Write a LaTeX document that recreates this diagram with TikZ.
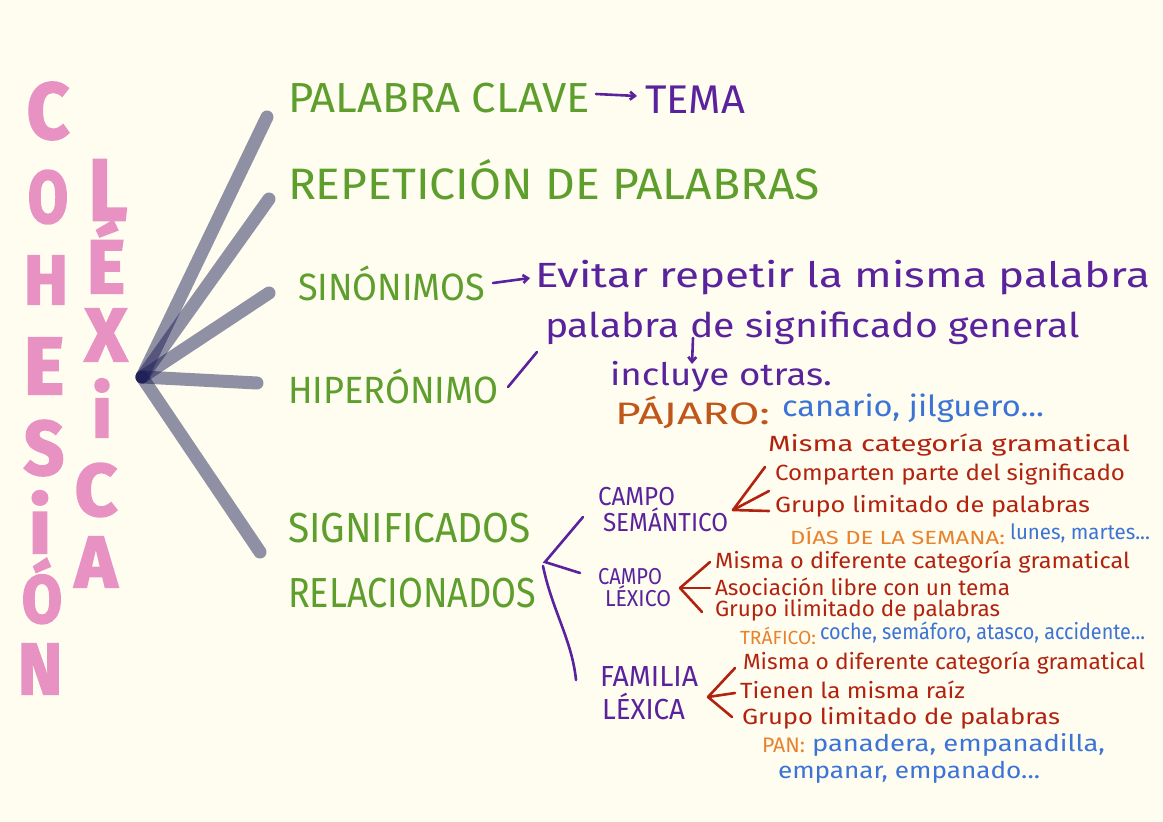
\documentclass[tikz,border=0pt]{standalone}
\usepackage{fontspec}
\usepackage{graphicx}
\setmainfont{Fira Sans}
\newfontfamily\fatfont[UprightFont={* Bold},FakeBold=3]{Fira Sans}
\usetikzlibrary{arrows.meta}
\definecolor{bgc}{HTML}{FEFDF0}
\definecolor{grn}{HTML}{5E9E2C}
\definecolor{prp}{HTML}{5A229C}
\definecolor{rd}{HTML}{B3220F}
\definecolor{brn}{HTML}{C0561A}
\definecolor{org}{HTML}{E8822E}
\definecolor{blu}{HTML}{3B73D6}
\definecolor{pnk}{HTML}{E792C2}
\definecolor{hubc}{HTML}{1A1A55}
% stretch text horizontally to a given width, keep natural height
\newcommand\fitw[2]{\resizebox{#1pt}{\height}{#2}}
\newcommand\fs[1]{\fontsize{#1}{#1}\selectfont}
\newcommand\bigletter[3]{\resizebox{#1pt}{#2pt}{\fatfont #3}}
\tikzset{
  txt/.style={anchor=west,inner sep=0pt,outer sep=0pt},
  g/.style={txt,text=grn},
  p/.style={txt,text=prp},
  r/.style={txt,text=rd,font=\fs{22}},
  o/.style={txt,text=org},
  b/.style={txt,text=blu},
  bigl/.style={text=pnk,inner sep=0pt},
  fan/.style={draw=hubc,draw opacity=0.48,line width=13pt,line cap=round},
  pline/.style={draw=prp,line width=2.6pt,line cap=round},
  rline/.style={draw=rd,line width=2.6pt,line cap=round},
  parrow/.style={pline,-{Straight Barb[length=5pt,width=8pt]}},
}
\begin{document}
\begin{tikzpicture}[x=1pt,y=-1pt]
\fill[bgc] (0,0) rectangle (1163,822);
\useasboundingbox (0,0) rectangle (1163,822);
% COHESION
\node[bigl] (c1) at (48,111) {\bigletter{42}{56}{C}};
\node[bigl] (c2) at (48,197) {\bigletter{40}{52}{O}};
\node[bigl] (c3) at (46,280) {\bigletter{44}{48}{H}};
\node[bigl] (c4) at (44,366) {\bigletter{40}{56}{E}};
\node[bigl] (c5) at (44,448) {\bigletter{40}{54}{S}};
\node[bigl] (c6) at (40,522) {\bigletter{22}{62}{i}};
\node[bigl] (c7) at (42,591) {\bigletter{40}{64}{Ó}};
\node[bigl] (c8) at (40,669) {\bigletter{44}{50}{N}};
% LEXICA
\node[bigl] (l1) at (108,190) {\bigletter{38}{60}{L}};
\node[bigl] (l2) at (106,257) {\bigletter{38}{72}{É}};
\node[bigl] (l3) at (106,335) {\bigletter{42}{52}{X}};
\node[bigl] (l4) at (102,408) {\bigletter{20}{58}{i}};
\node[bigl] (l5) at (96,490) {\bigletter{42}{52}{C}};
\node[bigl] (l6) at (96,562) {\bigletter{42}{50}{A}};
% fan
\coordinate (hub) at (142,377);
\coordinate (f1) at (267,117);
\coordinate (f2) at (269,199);
\coordinate (f3) at (269,293);
\coordinate (f4) at (257,383);
\coordinate (f5) at (260,552);
\foreach \e in {f1,f2,f3,f4,f5} \draw[fan] (hub) -- (\e);
% branch 1
\node[g,font=\fs{42}] (pc) at (288,98) {\fitw{302}{PALABRA CLAVE}};
\node[p,font=\fs{40}] (tema) at (645,100) {\fitw{100}{TEMA}};
\draw[parrow] ([xshift=6pt,yshift=4pt]pc.east) -- ([xshift=-8pt,yshift=4pt]tema.west);
% branch 2
\node[g,font=\fs{44}] (rep) at (288,180) {\fitw{532}{REPETICIÓN DE PALABRAS}};
% branch 3
\node[g,font=\fs{38}] (sin) at (298,283) {\fitw{187}{SINÓNIMOS}};
\node[p,font=\fs{35}] (evi) at (535,278) {\fitw{615}{Evitar repetir la misma palabra}};
\draw[parrow] ([xshift=8pt]sin.east) -- ([xshift=-5pt]evi.west);
% branch 4
\node[g,font=\fs{38}] (hip) at (288,386) {\fitw{210}{HIPERÓNIMO}};
\node[p,font=\fs{34}] (palg) at (545,328) {\fitw{535}{palabra de significado general}};
\coordinate (s1) at (508,387);
\coordinate (s2) at (537,352);
\draw[pline] (s1) -- (s2);
\node[p,font=\fs{31}] (inc) at (610,377) {\fitw{222}{incluye otras.}};
\coordinate (a1) at (693,338);
\coordinate (a2) at (692,364);
\draw[parrow] (a1) -- (a2);
\node[txt,text=brn,font=\fs{31}] (paj) at (615,412) {\fitw{155}{PÁJARO:}};
\node[b,font=\fs{29}] (can) at (782,408) {\fitw{262}{canario, jilguero...}};
% branch 5
\node[g,font=\fs{42}] (sig) at (288,528) {\fitw{243}{SIGNIFICADOS}};
\node[g,font=\fs{42}] (rel) at (288,593) {\fitw{248}{RELACIONADOS}};
\coordinate (bv) at (545,562);
\coordinate (bu) at (583,517);
\coordinate (bm) at (580,573);
\coordinate (bl0) at (543,566);
\coordinate (bl) at (576,680);
\draw[pline] (bu) -- (bv) -- (bm);
\draw[pline] (bl0) .. controls (552,610) and (572,640) .. (bl);
% campo semantico
\node[p,font=\fs{26}] (cs1) at (598,497) {\fitw{77}{CAMPO}};
\node[p,font=\fs{26}] (cs2) at (603,520) {\fitw{125}{SEMÁNTICO}};
\coordinate (csv) at (733,510);
\node[r] (cs3) at (768,445) {\fitw{362}{Misma categoría gramatical}};
\node[r] (cs4) at (775,474) {\fitw{350}{Comparten parte del significado}};
\node[r] (cs5) at (775,506) {\fitw{315}{Grupo limitado de palabras}};
\coordinate (cse1) at (765,467);
\coordinate (cse2) at (769,491);
\coordinate (cse3) at (769,511);
\foreach \e in {cse1,cse2,cse3} \draw[rline] (csv) -- (\e);
\node[o,font=\fs{19}] (cs6) at (790,536) {\fitw{215}{DÍAS DE LA SEMANA:}};
\node[b,font=\fs{21}] (cs7) at (1010,533) {\fitw{140}{lunes, martes...}};
% campo lexico
\node[p,font=\fs{23}] (cl1) at (598,577) {\fitw{64}{CAMPO}};
\node[p,font=\fs{23}] (cl2) at (605,596) {\fitw{66}{LÉXICO}};
\coordinate (clv) at (680,588);
\node[r] (cl3) at (715,562) {\fitw{415}{Misma o diferente categoría gramatical}};
\node[r] (cl4) at (715,587) {\fitw{295}{Asociación libre con un tema}};
\node[r] (cl5) at (715,610) {\fitw{285}{Grupo ilimitado de palabras}};
\coordinate (cle1) at (710,562);
\coordinate (cle2) at (710,588);
\coordinate (cle3) at (702,612);
\foreach \e in {cle1,cle2,cle3} \draw[rline] (clv) -- (\e);
\node[o,font=\fs{19}] (cl6) at (740,636) {\fitw{76}{TRÁFICO:}};
\node[b,font=\fs{22}] (cl7) at (820,633) {\fitw{325}{coche, semáforo, atasco, accidente...}};
% familia lexica
\node[p,font=\fs{29}] (fl1) at (600,677) {\fitw{98}{FAMILIA}};
\node[p,font=\fs{29}] (fl2) at (602,706) {\fitw{83}{LÉXICA}};
\coordinate (flv) at (708,697);
\node[r] (fl3) at (743,663) {\fitw{402}{Misma o diferente categoría gramatical}};
\node[r] (fl4) at (740,690) {\fitw{225}{Tienen la misma raíz}};
\node[r] (fl5) at (742,718) {\fitw{318}{Grupo limitado de palabras}};
\coordinate (fle1) at (735,668);
\coordinate (fle2) at (735,693);
\coordinate (fle3) at (732,717);
\foreach \e in {fle1,fle2,fle3} \draw[rline] (flv) -- (\e);
\node[o,font=\fs{21}] (fl6) at (762,745) {\fitw{43}{PAN:}};
\node[b,font=\fs{23}] (fl7) at (812,745) {\fitw{293}{panadera, empanadilla,}};
\node[b,font=\fs{23}] (fl8) at (778,772) {\fitw{262}{empanar, empanado...}};
\end{tikzpicture}
\end{document}
